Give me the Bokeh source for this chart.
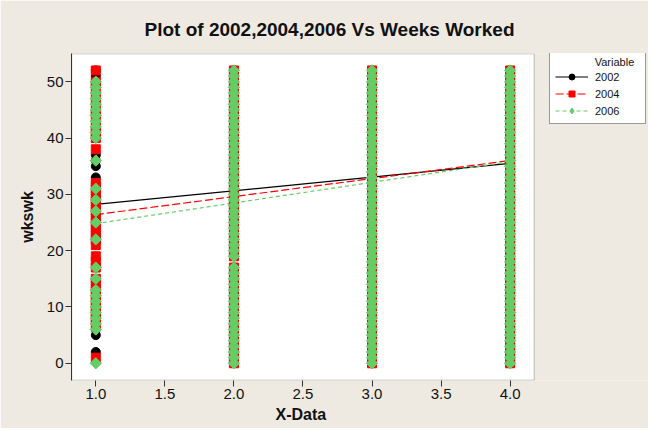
from bokeh.plotting import figure
from bokeh.models import (Range1d, Legend, LegendItem, FixedTicker, NumeralTickFormatter,
                          ColumnDataSource, BoxAnnotation, Title)
from bokeh.embed import file_html
from bokeh.resources import INLINE
import math

# ---- data ----
x_codes = [1, 2, 3, 4]

# weeks worked observed at each X-Data level
weeks_x1_2002 = [2, 5, 6, 8, 10, 12, 14, 22, 23, 24, 25, 26, 27, 28, 30, 32, 33, 35, 36, 37,
                 40, 42, 44, 46, 48, 50, 51, 52]
weeks_x1_2004 = [1, 7, 8, 9, 10, 11, 12, 13, 14, 15, 17, 18, 19, 21, 22, 23, 24, 25, 26, 27,
                 28, 29, 30, 31, 32, 38, 40, 41, 42, 44, 45, 47, 49, 50, 52]
weeks_x1_2006 = [0, 6, 7, 8, 9, 10, 11, 12, 13, 15, 17, 22, 25, 27, 29, 31, 36, 40, 41, 42,
                 43, 44, 45, 46, 47, 48, 49, 50]
weeks_x2 = [0, 1, 2, 3, 4, 5, 6, 7, 8, 9, 10, 11, 12, 13, 14, 15, 16, 17, 19, 20, 21, 22, 23,
            24, 25, 26, 27, 28, 29, 30, 31, 32, 33, 34, 35, 36, 37, 38, 39, 40, 41, 42, 43,
            44, 45, 46, 47, 48, 49, 50, 51, 52]
weeks_x3 = [0, 1, 2, 3, 4, 5, 6, 7, 8, 9, 10, 11, 12, 13, 14, 15, 16, 17, 18, 19, 20, 21, 22,
            23, 24, 25, 26, 27, 28, 29, 30, 31, 32, 33, 34, 35, 36, 37, 38, 39, 40, 41, 42,
            43, 44, 45, 46, 47, 48, 49, 50, 51, 52]
weeks_x4 = [0, 1, 2, 3, 4, 5, 6, 7, 8, 9, 10, 11, 12, 13, 14, 15, 16, 17, 18, 19, 20, 21, 22,
            23, 24, 25, 26, 27, 28, 29, 30, 31, 32, 33, 34, 35, 36, 37, 38, 39, 40, 41, 42,
            43, 44, 45, 46, 47, 48, 49, 50, 51, 52]

# fitted (regression) lines, value at X = 1 and X = 4
fit_x = [1, 4]
fit_2002 = [28.2, 35.5]
fit_2004 = [26.4, 36.0]
fit_2006 = [24.8, 35.8]

series_names = ["2002", "2004", "2006"]
x_ticks = [1.0, 1.5, 2.0, 2.5, 3.0, 3.5, 4.0]
y_ticks = [0, 10, 20, 30, 40, 50]

# data window of the plotting area
x_lo, x_hi = 0.826, 4.174
y_lo, y_hi = -3.0, 54.95


def build(first_level):
    xs, ys = [], []
    for code, wk in zip(x_codes, [first_level, weeks_x2, weeks_x3, weeks_x4]):
        xs += [code] * len(wk)
        ys += wk
    return ColumnDataSource(dict(x=xs, y=ys))


src_2002 = build(weeks_x1_2002)
src_2004 = build(weeks_x1_2004)
src_2006 = build(weeks_x1_2006)

BG = "#EEEAE1"
FONT = "Liberation Sans"
EDGE = "#333333"
INK = "#111111"
C02, C04, C06 = "black", "#FF0000", "#66CC66"

# the frame runs to the right edge so that the legend can sit inside it;
# the white plotting area is drawn as a box over the data window
p = figure(width=648, height=428, output_backend="svg", toolbar_location=None,
           x_range=Range1d(0.824, 5.002), y_range=Range1d(-3.06, 55.01),
           min_border_left=71, min_border_right=0, min_border_top=53, min_border_bottom=47,
           title="Plot of 2002,2004,2006 Vs Weeks Worked")
p.styles = {"box-shadow": "-2px -2px 0px 0px #5a5a5a"}
p.border_fill_color = BG
p.background_fill_color = BG
p.outline_line_color = None
p.xgrid.visible = False
p.ygrid.visible = False

p.title.align = "left"
p.title.offset = 73
p.title.standoff = 28
p.title.text_font = FONT
p.title.text_font_size = "19px"
p.title.text_font_style = "bold"
p.title.text_color = INK

p.add_layout(BoxAnnotation(left=x_lo, right=x_hi, bottom=y_lo, top=y_hi,
                           fill_color="white", fill_alpha=1.0,
                           line_color=EDGE, line_width=1, level="underlay"))

for ax in (p.xaxis[0], p.yaxis[0]):
    ax.axis_line_color = EDGE
    ax.major_tick_line_color = EDGE
    ax.major_tick_in = 0
    ax.major_tick_out = 6
    ax.minor_tick_line_color = None
    ax.major_label_text_font = FONT
    ax.major_label_text_font_size = "15px"
    ax.major_label_text_color = INK
    ax.major_label_standoff = 2
    ax.axis_label_text_font = FONT
    ax.axis_label_text_font_size = "16px"
    ax.axis_label_text_font_style = "bold"
    ax.axis_label_text_color = INK

p.xaxis.axis_line_color = None
p.xaxis.ticker = FixedTicker(ticks=x_ticks)
p.xaxis.formatter = NumeralTickFormatter(format="0.0")
p.yaxis.ticker = FixedTicker(ticks=y_ticks)
p.yaxis.axis_label = "wkswk"
p.yaxis.axis_label_standoff = 8

p.add_layout(Title(text="X-Data", align="left", offset=204, standoff=8, vertical_align="top",
                   text_font=FONT, text_font_size="16px", text_font_style="bold",
                   text_color=INK), "below")

# fitted lines
l02 = p.line(fit_x, fit_2002, line_color=C02, line_width=1.2)
l04 = p.line(fit_x, fit_2004, line_color=C04, line_width=1.2, line_dash="8 3")
l06 = p.line(fit_x, fit_2006, line_color=C06, line_width=1.2, line_dash="4 3")

# points
s02 = p.scatter("x", "y", source=src_2002, marker="circle", size=9, fill_color=C02, line_color=C02)
s04 = p.scatter("x", "y", source=src_2004, marker="square", size=9, fill_color=C04, line_color=C04)
# diamond key for the legend, hidden underneath the (rotated square) 2006 markers
k06 = p.scatter("x", "y", source=src_2006, marker="diamond", size=10,
                fill_color=C06, line_color=C06)
s06 = p.scatter("x", "y", source=src_2006, marker="square", size=8, angle=math.pi / 4,
                fill_color=C06, line_color=C06)

nb = "\u00a0"
legend = Legend(items=[LegendItem(label=series_names[0], renderers=[l02, s02]),
                       LegendItem(label=series_names[1], renderers=[l04, s04]),
                       LegendItem(label=series_names[2], renderers=[l06, k06])],
                location=(478, 256),
                title=nb * 13 + "Variable" + nb * 2,
                title_text_font=FONT, title_text_font_size="11px", title_text_color=INK,
                title_text_font_style="normal", title_standoff=1,
                label_text_font=FONT, label_text_font_size="11px", label_text_color=INK,
                glyph_width=33, glyph_height=15, label_height=15, label_standoff=7,
                spacing=2, padding=5, margin=0,
                border_line_color=EDGE, border_line_width=1,
                background_fill_color="white", background_fill_alpha=1.0)
p.add_layout(legend, "center")

open("out.html", "w").write(file_html(p, INLINE))
